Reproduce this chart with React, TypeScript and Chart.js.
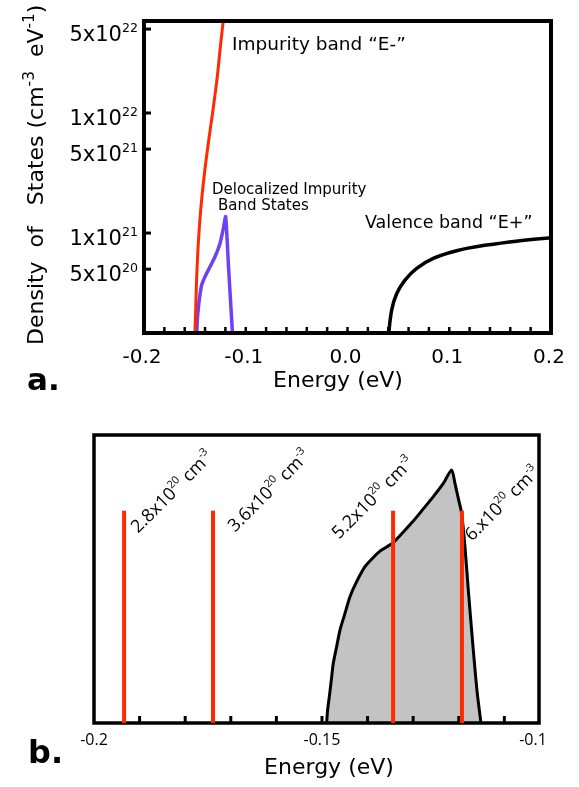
import React, { useEffect, useRef } from "react";
import { Chart, registerables } from "chart.js";

Chart.register(...registerables);

const FONT = '"DejaVu Sans", Verdana, sans-serif';
const FONT_B = '"Open Sans", "DejaVu Sans", sans-serif';

// ---------------- Panel a: density of states (log scale) ----------------
const impurityEnergy = [-0.1502, -0.1499, -0.1492, -0.1482, -0.1466, -0.1443, -0.141, -0.1368, -0.1322, -0.128, -0.1246, -0.1221, -0.1209];
const impurityDos = [1.0e20, 1.47e20, 2.28e20, 4.3e20, 8.3e20, 1.55e21, 2.93e21, 5.6e21, 1.06e22, 2.0e22, 3.8e22, 5.85e22, 7.2e22];

const delocEnergy = [-0.14824, -0.14759, -0.1466, -0.14529, -0.14333, -0.14005, -0.13514, -0.13022, -0.12531, -0.12203, -0.11974, -0.11712, -0.1127];
const delocDos = [1.4e20, 1.88e20, 2.36e20, 2.94e20, 3.69e20, 4.33e20, 5.23e20, 6.35e20, 8.2e20, 1.09e21, 1.37e21, 5.6e20, 1.3e20];

const valenceEnergy = [0.0399, 0.0434, 0.0484, 0.0565, 0.068, 0.0843, 0.1073, 0.1368, 0.1695, 0.2];
const valenceDos = [1.3e20, 2.28e20, 3.14e20, 4.06e20, 5.08e20, 6.15e20, 7.13e20, 7.94e20, 8.63e20, 9.14e20];

const aXMin = -0.2;
const aXMax = 0.2;
const aYMin = 1.47e20;
const aYMax = 5.84e22;
const aXTickLabels = [-0.2, -0.1, 0.0, 0.1, 0.2];
const aXMinorTicks = [-0.18, -0.16, -0.14, -0.12, -0.1, -0.08, -0.06, -0.04, -0.02, 0, 0.02, 0.04, 0.06, 0.08, 0.1, 0.12, 0.14, 0.16, 0.18];
const aYTickValues = [5e20, 1e21, 5e21, 1e22, 5e22];

// ---------------- Panel b: delocalized band (linear) ----------------
const bandEnergy = [
  -0.14898, -0.14876, -0.14839, -0.14795, -0.14752, -0.14678, -0.14605, -0.14496, -0.14386, -0.1424,
  -0.14057, -0.13874, -0.13728, -0.13582, -0.13436, -0.13216, -0.12997, -0.12778, -0.12558, -0.12339, -0.12156,
  -0.12083, -0.1201, -0.11937, -0.11864, -0.11791, -0.11681, -0.11594, -0.11513,
];
const bandDos = [
  0, 0.068, 0.137, 0.224, 0.311, 0.398, 0.484, 0.571, 0.658, 0.736,
  0.814, 0.862, 0.895, 0.917, 0.94, 0.995, 1.052, 1.115, 1.179, 1.248, 1.318,
  1.248, 1.17, 1.092, 0.918, 0.693, 0.38, 0.155, 0,
];
const fermiEnergy = [-0.1934, -0.1739, -0.1344, -0.1193];
const fermiMarkerTop = 1.105;
const dopingMantissa = ["2.8", "3.6", "5.2", "6."];
const dopingExponent = "20";

const bXMin = -0.2;
const bXMax = -0.1024;
const bYMin = 0;
const bYMax = 1.5;
const bXTickLabels = [-0.2, -0.15, -0.1];
const bXMinorTicks = [-0.19, -0.18, -0.17, -0.16, -0.15, -0.14, -0.13, -0.12, -0.11];

// ---------------- styles ----------------
const RED = "#ff2a00";
const BLUE = "#7040f5";
const GRAY = "#c3c3c3";
const doseLabelDx = [14, 22, -54, 10];
const doseLabelDy = [23, 22, 29, 31];

type Part = { t: string; sup?: boolean };

function drawRich(
  ctx: CanvasRenderingContext2D,
  parts: Part[],
  x: number,
  y: number,
  size: number,
  align: "left" | "right" | "center",
  family: string = FONT,
  weight: string = "normal",
  supScale = 0.62,
  supRise = 0.42,
  color = "#000"
) {
  const supSize = size * supScale;
  const widths = parts.map((p) => {
    ctx.font = `${weight} ${p.sup ? supSize : size}px ${family}`;
    return ctx.measureText(p.t).width;
  });
  const total = widths.reduce((a, b) => a + b, 0);
  let cx = align === "left" ? x : align === "right" ? x - total : x - total / 2;
  ctx.fillStyle = color;
  ctx.textAlign = "left";
  ctx.textBaseline = "alphabetic";
  parts.forEach((p, i) => {
    ctx.font = `${weight} ${p.sup ? supSize : size}px ${family}`;
    ctx.fillText(p.t, cx, p.sup ? y - size * supRise : y);
    cx += widths[i];
  });
}

function seg(ctx: CanvasRenderingContext2D, x1: number, y1: number, x2: number, y2: number) {
  ctx.beginPath();
  ctx.moveTo(x1, y1);
  ctx.lineTo(x2, y2);
  ctx.stroke();
}

function pts(xs: number[], ys: number[]) {
  return xs.map((x, i) => ({ x, y: ys[i] }));
}

function sciParts(v: number): Part[] {
  const e = Math.floor(Math.log10(v) + 1e-9);
  const m = Math.round(v / Math.pow(10, e));
  return [{ t: `${m}x10` }, { t: String(e), sup: true }];
}

const panelAPlugin = {
  id: "panelA",
  afterDatasetsDraw(chart: any) {
    const { ctx, chartArea: ca, scales } = chart;
    const x = scales.x;
    const y = scales.y;
    ctx.save();
    ctx.strokeStyle = "#000";
    ctx.lineWidth = 4;
    ctx.strokeRect(ca.left, ca.top, ca.right - ca.left, ca.bottom - ca.top);
    ctx.lineWidth = 2.5;
    aXMinorTicks.forEach((v) => {
      const px = x.getPixelForValue(v);
      seg(ctx, px, ca.bottom, px, ca.bottom - 6);
    });
    ctx.lineWidth = 3;
    aYTickValues.forEach((v) => {
      const py = y.getPixelForValue(v);
      seg(ctx, ca.left, py, ca.left + 7, py);
    });
    // y tick labels
    aYTickValues.forEach((v) => {
      const py = y.getPixelForValue(v);
      drawRich(ctx, sciParts(v), ca.left - 6, py + 12, 21, "right", FONT, "normal", 0.6, 0.45);
    });
    // x tick labels
    ctx.fillStyle = "#000";
    ctx.font = `20px ${FONT}`;
    ctx.textAlign = "center";
    ctx.textBaseline = "alphabetic";
    aXTickLabels.forEach((v) => {
      ctx.fillText(v.toFixed(1), x.getPixelForValue(v) - 2, ca.bottom + 30);
    });
    // x title
    ctx.font = `22px ${FONT}`;
    ctx.fillText("Energy (eV)", 338, ca.bottom + 54);
    // y title
    ctx.save();
    ctx.translate(43, 345);
    ctx.rotate(-Math.PI / 2);
    drawRich(
      ctx,
      [{ t: "Density  of   States (cm" }, { t: "-3", sup: true }, { t: "  eV" }, { t: "-1", sup: true }, { t: ")" }],
      0, 0, 22, "left", FONT, "normal", 0.7, 0.42
    );
    ctx.restore();
    // annotations
    ctx.fillStyle = "#000";
    ctx.textAlign = "left";
    ctx.font = `18.5px ${FONT}`;
    ctx.fillText("Impurity band \u201cE-\u201d", 232, 50);
    ctx.font = `15px ${FONT}`;
    ctx.fillText("Delocalized Impurity", 212, 194);
    ctx.fillText("Band States", 218, 210);
    ctx.font = `17.5px ${FONT}`;
    ctx.fillText("Valence band \u201cE+\u201d", 365, 228);
    // panel letter
    ctx.font = `bold 31px ${FONT}`;
    ctx.fillText("a.", 27, 390);
    ctx.restore();
  },
};

const panelBPlugin = {
  id: "panelB",
  afterDatasetDraw(chart: any, args: any) {
    if (args.index !== 0) return;
    const { ctx, chartArea: ca, scales } = chart;
    const x = scales.x;
    ctx.save();
    ctx.strokeStyle = "#000";
    ctx.lineWidth = 3.5;
    ctx.strokeRect(ca.left, ca.top, ca.right - ca.left, ca.bottom - ca.top);
    ctx.lineWidth = 3;
    bXMinorTicks.forEach((v) => {
      const px = x.getPixelForValue(v);
      seg(ctx, px, ca.bottom, px, ca.bottom - 7);
    });
    ctx.restore();
  },
  afterDatasetsDraw(chart: any) {
    const { ctx, chartArea: ca, scales } = chart;
    const x = scales.x;
    const y = scales.y;
    ctx.save();
    ctx.fillStyle = "#000";
    ctx.textAlign = "center";
    ctx.textBaseline = "alphabetic";
    ctx.font = `16px ${FONT_B}`;
    bXTickLabels.forEach((v) => {
      const px = Math.min(x.getPixelForValue(v), ca.right - 6);
      ctx.fillText(String(v), px, ca.bottom + 22);
    });
    ctx.font = `22px ${FONT}`;
    ctx.fillText("Energy (eV)", 329, ca.bottom + 51);
    // doping labels
    fermiEnergy.forEach((e, i) => {
      const px = x.getPixelForValue(e) + doseLabelDx[i];
      const py = y.getPixelForValue(fermiMarkerTop) + doseLabelDy[i];
      ctx.save();
      ctx.translate(px, py);
      ctx.rotate(-Math.PI / 4);
      drawRich(
        ctx,
        [{ t: `${dopingMantissa[i]}x10` }, { t: dopingExponent, sup: true }, { t: " cm" }, { t: "-3", sup: true }],
        0, 0, 18, "left", FONT_B, "normal", 0.6, 0.45
      );
      ctx.restore();
    });
    ctx.font = `bold 32px ${FONT}`;
    ctx.textAlign = "left";
    ctx.fillText("b.", 28, 363);
    ctx.restore();
  },
};

export default function App() {
  const refA = useRef<HTMLCanvasElement | null>(null);
  const refB = useRef<HTMLCanvasElement | null>(null);

  useEffect(() => {
    const common = {
      responsive: false,
      animation: false as const,
      devicePixelRatio: 1,
      plugins: { legend: { display: false }, tooltip: { enabled: false } },
      elements: { point: { radius: 0 } },
    };

    const chartA = new Chart(refA.current as HTMLCanvasElement, {
      type: "line",
      data: {
        datasets: [
          {
            data: pts(impurityEnergy, impurityDos),
            borderColor: RED,
            borderWidth: 3,
            tension: 0.4,
            fill: false,
          },
          {
            data: pts(delocEnergy, delocDos),
            borderColor: BLUE,
            borderWidth: 3.5,
            tension: 0.2,
            borderJoinStyle: "miter",
            fill: false,
          },
          {
            data: pts(valenceEnergy, valenceDos),
            borderColor: "#000",
            borderWidth: 3.5,
            tension: 0.4,
            fill: false,
          },
        ],
      },
      options: {
        ...common,
        layout: { padding: { left: 144, right: 28, top: 21, bottom: 67 } },
        scales: {
          x: { type: "linear", display: false, min: aXMin, max: aXMax },
          y: { type: "logarithmic", display: false, min: aYMin, max: aYMax },
        },
      } as any,
      plugins: [panelAPlugin],
    });

    const chartB = new Chart(refB.current as HTMLCanvasElement, {
      type: "line",
      data: {
        datasets: [
          {
            data: pts(bandEnergy, bandDos),
            borderColor: "#000",
            borderWidth: 3,
            backgroundColor: GRAY,
            fill: "origin",
            tension: 0.25,
            borderJoinStyle: "miter",
            order: 2,
          },
          ...fermiEnergy.map((e) => ({
            data: [
              { x: e, y: 0 },
              { x: e, y: fermiMarkerTop },
            ],
            borderColor: RED,
            borderWidth: 4,
            fill: false,
            order: 1,
          })),
        ],
      },
      options: {
        ...common,
        layout: { padding: { left: 94, right: 40, top: 35, bottom: 64 } },
        scales: {
          x: { type: "linear", display: false, min: bXMin, max: bXMax },
          y: { type: "linear", display: false, min: bYMin, max: bYMax },
        },
      } as any,
      plugins: [panelBPlugin],
    });

    return () => {
      chartA.destroy();
      chartB.destroy();
    };
  }, []);

  return (
    <div style={{ position: "absolute", left: 0, top: 0, width: 579, height: 787, background: "#fff" }}>
      <canvas ref={refA} width={579} height={400} style={{ position: "absolute", left: 0, top: 0 }} />
      <canvas ref={refB} width={579} height={387} style={{ position: "absolute", left: 0, top: 400 }} />
    </div>
  );
}
